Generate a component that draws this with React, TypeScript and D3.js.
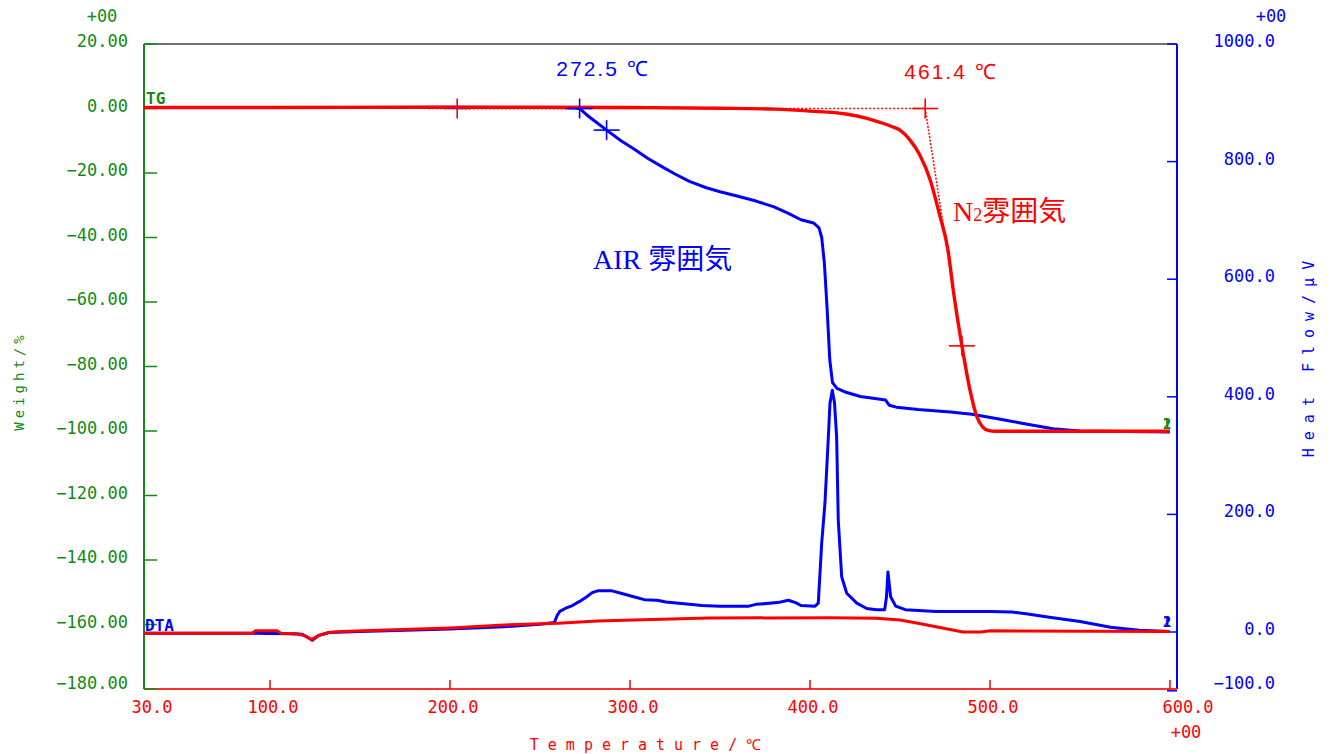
import React from "react";
import * as d3 from "d3";

// ---------- data ----------
const xTicks = [30, 100, 200, 300, 400, 500, 600];
const xTickLabels = ["30.0", "100.0", "200.0", "300.0", "400.0", "500.0", "600.0"];
const leftTicks = [20, 0, -20, -40, -60, -80, -100, -120, -140, -160, -180];
const leftTickLabels = ["20.00", "0.00", "−20.00", "−40.00", "−60.00", "−80.00", "−100.00", "−120.00", "−140.00", "−160.00", "−180.00"];
const rightTicks = [1000, 800, 600, 400, 200, 0, -100];
const rightTickLabels = ["1000.0", "800.0", "600.0", "400.0", "200.0", "0.0", "−100.0"];

// TG in N2 (red), weight %
const tgN2T = [30, 100, 200, 250, 300, 350, 380, 400, 420, 430, 440, 445, 450, 455.6, 461, 466.7, 472, 476.7, 479.5, 484.4, 488.9, 492.8, 496, 499, 503, 600];
const tgN2W = [0.3, 0.3, 0.4, 0.4, 0.3, 0.1, -0.2, -0.8, -1.7, -2.8, -4.5, -5.5, -6.7, -9.8, -14.4, -22, -33, -44, -56, -73.6, -87.3, -95.7, -98.8, -99.8, -100.1, -100.1];

// TG in air (blue), weight %
const tgAirT = [30, 200, 260, 268, 272, 276, 280, 287, 295, 302, 310, 317, 325, 333, 342, 350, 360, 370, 380, 388, 395, 402, 405, 406.5, 408, 409.5, 411, 412.5, 415, 420, 428, 434, 442, 444, 448, 460, 478, 490, 505, 520, 535, 550, 600];
const tgAirW = [0.3, 0.4, 0.3, 0.2, 0, -2, -3.7, -6.7, -10, -12.5, -15.5, -17.8, -20.3, -22.6, -24.5, -25.8, -27.2, -28.7, -30.5, -32.5, -34.5, -35.5, -37, -40, -48, -62, -78, -85, -86.8, -88, -89.3, -89.8, -90.4, -92, -92.6, -93.3, -94.1, -94.8, -96.3, -97.8, -99.3, -100, -100.3];

// DTA in N2 (red), µV
const dtaN2T = [30, 90, 92, 104, 106, 115, 119, 123, 127, 132, 140, 160, 200, 230, 260, 282, 307, 344, 411, 437, 450, 460, 470, 480, 485, 495, 500, 600];
const dtaN2V = [-2, -2, 2, 2, -2, -3, -6, -13, -6, -1, 1, 3, 7, 12, 15, 18.7, 21, 23.8, 24.3, 23.3, 20.4, 15, 9, 3, 0, 0, 2, 1];

// DTA in air (blue), µV
const dtaAirT = [30, 90, 110, 118, 121, 123.5, 127, 133, 150, 200, 230, 250, 258, 259.5, 261, 264, 268, 272, 276, 279, 282, 290, 295, 302, 308, 315, 320, 330, 340, 350, 366, 370, 382, 388, 392, 395, 402.8, 404.6, 406.5, 408.3, 410.2, 411.1, 412.4, 413.6, 414.8, 415.7, 417.6, 420.4, 426, 431.5, 437, 441.5, 442.5, 443.3, 444.8, 447.6, 453, 470, 500, 512, 520, 533, 550, 567, 583, 600];
const dtaAirV = [-2, -2, -3, -4, -9, -14, -6, -1, 1, 5, 9, 13, 16, 28, 35, 40, 45, 52, 60, 67, 70, 70, 66, 60, 55, 54, 51, 48, 45, 44, 44, 47, 50, 54, 50, 45, 44, 49, 151, 219, 332, 389, 411, 390, 332, 190, 94, 66, 49, 40, 38, 38, 60, 102, 60, 44, 38, 35, 35, 34, 31, 25, 18, 8, 3, 1];

// onset analysis markers (TG)
const n2CrossT = [204, 464, 484.4];
const n2CrossW = [0, 0, -73.6];
const airCrossT = [272, 287];
const airCrossW = [0, -6.7];
const airBaseStartT = 188;

const RED = "#ff0000";
const BLUE = "#0000ff";
const GREEN = "#138a13";
const MONO = "'DejaVu Sans Mono', monospace";
const SANS = "'Liberation Sans', Arial, sans-serif";
const SERIF = "'Liberation Serif', 'Noto Sans CJK JP', serif";

export default function App() {
  const W = 1333, H = 754;
  const x = d3.scaleLinear().domain([30, 600]).range([144, 1170]);
  const yL = d3.scaleLinear().domain([-180, 20]).range([689, 44]);
  const yR = d3.scaleLinear().domain([0, 1000]).range([632, 44]);
  const left = 144, right = 1177, top = 44, bottom = 689;

  const lineL = (T: number[], V: number[], smooth = false) => {
    const g = d3.line<number>().x((_, i) => x(T[i])).y((_, i) => yL(V[i]));
    if (smooth) g.curve(d3.curveMonotoneX);
    return g(T.map((t) => t)) || "";
  };
  const lineR = (T: number[], V: number[]) =>
    d3.line<number>().x((_, i) => x(T[i])).y((_, i) => yR(V[i]))(T.map((t) => t)) || "";

  const cross = (t: number, w: number, color: string, key: string) => {
    const cx = x(t), cy = yL(w);
    return (
      <g key={key} stroke={color} strokeWidth={1.6}>
        <line x1={cx - 13} x2={cx + 13} y1={cy} y2={cy} />
        <line x1={cx} x2={cx} y1={cy - 10} y2={cy + 10} />
      </g>
    );
  };

  const labY = (v: number) => Math.min(v - 2, 684);
  const FS = 17;

  return (
    <svg width={W} height={H} style={{ position: "absolute", left: 0, top: 0, background: "#fff" }}>
      {/* frame */}
      <line x1={left} x2={right} y1={top} y2={top} stroke="#444" strokeWidth={1.5} />
      <line x1={left} x2={left} y1={top} y2={bottom} stroke={GREEN} strokeWidth={2} />
      <line x1={right} x2={right} y1={top} y2={bottom} stroke={BLUE} strokeWidth={2} />
      <line x1={left} x2={right} y1={bottom} y2={bottom} stroke="#ff3030" strokeWidth={2} />

      {/* left ticks */}
      {leftTicks.map((v, i) => (
        <g key={"lt" + i}>
          <line x1={left} x2={left + 13} y1={yL(v)} y2={yL(v)} stroke={GREEN} strokeWidth={1.5} />
          <text x={128} y={labY(yL(v))} dominantBaseline="middle" textAnchor="end" fill={GREEN} fontFamily={MONO} fontSize={FS}>
            {leftTickLabels[i]}
          </text>
        </g>
      ))}
      {/* right ticks */}
      {rightTicks.map((v, i) => (
        <g key={"rt" + i}>
          <line x1={right - 10} x2={right} y1={yR(v)} y2={yR(v)} stroke={BLUE} strokeWidth={1.5} />
          <text x={1275} y={labY(yR(v))} dominantBaseline="middle" textAnchor="end" fill={BLUE} fontFamily={MONO} fontSize={FS}>
            {rightTickLabels[i]}
          </text>
        </g>
      ))}
      {/* bottom ticks */}
      {xTicks.map((v, i) => {
        const first = i === 0, last = i === xTicks.length - 1;
        const lx = first ? x(v) + 8 : last ? x(v) + 18 : x(v) + 3;
        return (
          <g key={"bt" + i}>
            {!first && <line x1={x(v)} x2={x(v)} y1={bottom} y2={bottom - 9} stroke={RED} strokeWidth={1.5} />}
            <text x={lx} y={708} dominantBaseline="middle" textAnchor="middle" fill={RED} fontFamily={MONO} fontSize={FS}>
              {xTickLabels[i]}
            </text>
          </g>
        );
      })}

      {/* exponent markers */}
      <text x={102} y={17} dominantBaseline="middle" textAnchor="middle" fill={GREEN} fontFamily={MONO} fontSize={FS}>+00</text>
      <text x={1271} y={17} dominantBaseline="middle" textAnchor="middle" fill={BLUE} fontFamily={MONO} fontSize={FS}>+00</text>
      <text x={1186} y={733} dominantBaseline="middle" textAnchor="middle" fill={RED} fontFamily={MONO} fontSize={FS}>+00</text>

      {/* axis titles */}
      <text x={650} y={745} dominantBaseline="middle" textAnchor="middle" fill={RED} fontFamily={MONO} fontSize={15} letterSpacing={9}>
        Temperature/℃
      </text>
      <text transform="translate(20,381) rotate(-90)" dominantBaseline="middle" textAnchor="middle" fill={GREEN} fontFamily={MONO} fontSize={14} letterSpacing={4}>
        Weight/%
      </text>
      <text transform="translate(1309,355) rotate(-90)" dominantBaseline="middle" textAnchor="middle" fill={BLUE} fontFamily={MONO} fontSize={15} letterSpacing={8}>
        Heat Flow/μV
      </text>

      {/* curve labels */}
      <text x={146} y={99} dominantBaseline="middle" fill={GREEN} fontFamily={MONO} fontWeight="bold" fontSize={16}>TG</text>
      <text x={145} y={626} dominantBaseline="middle" fill={BLUE} fontFamily={MONO} fontWeight="bold" fontSize={16}>DTA</text>

      {/* onset helper lines */}
      <line x1={x(airBaseStartT)} x2={x(airCrossT[0])} y1={yL(0)} y2={yL(0)} stroke={BLUE} strokeWidth={1.5} strokeDasharray="2,2" />
      <line x1={x(airCrossT[0])} x2={x(airCrossT[1]) + 3} y1={yL(airCrossW[0])} y2={yL(airCrossW[1]) + 2} stroke={BLUE} strokeWidth={1.5} strokeDasharray="2,2" />
      <line x1={x(n2CrossT[0])} x2={x(n2CrossT[1])} y1={yL(0)} y2={yL(0)} stroke={RED} strokeWidth={1.3} strokeDasharray="2,2" />
      <line x1={x(n2CrossT[1])} x2={x(n2CrossT[2])} y1={yL(n2CrossW[1])} y2={yL(n2CrossW[2])} stroke={RED} strokeWidth={1.5} strokeDasharray="2,1.5" />

      {/* DTA curves */}
      <path d={lineR(dtaAirT, dtaAirV)} fill="none" stroke={BLUE} strokeWidth={3} strokeLinejoin="round" />
      <path d={lineR(dtaN2T, dtaN2V)} fill="none" stroke={RED} strokeWidth={3} strokeLinejoin="round" />

      {/* TG curves */}
      <path d={lineL(tgAirT, tgAirW)} fill="none" stroke={BLUE} strokeWidth={3} strokeLinejoin="round" />
      <path d={lineL(tgN2T, tgN2W, true)} fill="none" stroke={RED} strokeWidth={3.4} strokeLinejoin="round" />

      {/* crosses */}
      {airCrossT.map((t, i) => cross(t, airCrossW[i], BLUE, "ac" + i))}
      {n2CrossT.map((t, i) => cross(t, n2CrossW[i], i === 0 ? "#c8102e" : RED, "nc" + i))}

      {/* end markers */}
      <text x={1167} y={425} dominantBaseline="middle" textAnchor="middle" fill={GREEN} fontFamily={SERIF} fontWeight="bold" fontSize={16}>1</text>
      <text x={1167} y={425} dominantBaseline="middle" textAnchor="middle" fill={GREEN} fontFamily={SERIF} fontWeight="bold" fontSize={16}>2</text>
      <text x={1167} y={623} dominantBaseline="middle" textAnchor="middle" fill={BLUE} fontFamily={SERIF} fontWeight="bold" fontSize={16}>1</text>
      <text x={1167} y={623} dominantBaseline="middle" textAnchor="middle" fill={BLUE} fontFamily={SERIF} fontWeight="bold" fontSize={16}>2</text>

      {/* annotations */}
      <text x={603} y={70} dominantBaseline="middle" textAnchor="middle" fill={BLUE} fontFamily={SANS} fontSize={21} letterSpacing={2}>272.5 ℃</text>
      <text x={951} y={73} dominantBaseline="middle" textAnchor="middle" fill={RED} fontFamily={SANS} fontSize={21} letterSpacing={2}>461.4 ℃</text>
      <text x={593} y={269} fill={BLUE} fontFamily={SERIF} fontSize={28}>AIR 雰囲気</text>
      <text x={953} y={221} fill={RED} fontFamily={SERIF} fontSize={28}>
        N<tspan fontSize={18}>2</tspan>雰囲気
      </text>
    </svg>
  );
}
